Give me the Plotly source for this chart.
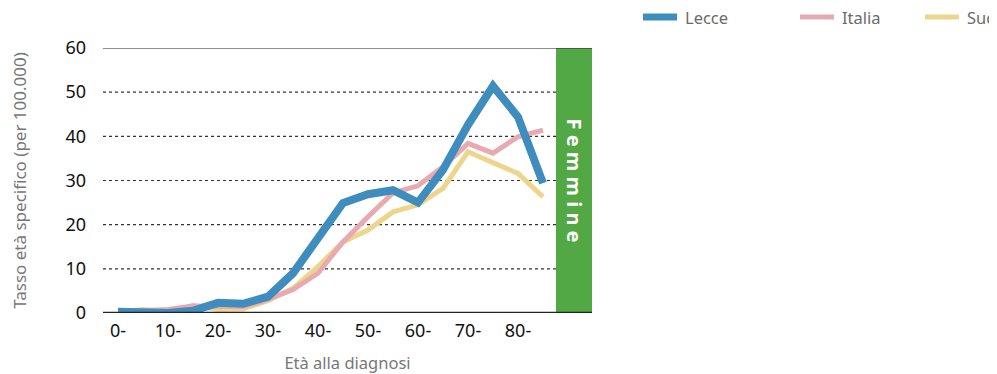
import plotly.graph_objects as go

age_groups = ["0-", "5-", "10-", "15-", "20-", "25-", "30-", "35-", "40-",
              "45-", "50-", "55-", "60-", "65-", "70-", "75-", "80-", "85-"]
lecce = [0.3, 0.2, 0.0, 0.5, 2.3, 2.1, 3.7, 9.0, 17.0, 24.9, 26.9, 27.8,
         25.0, 32.4, 42.6, 51.4, 44.4, 29.4]
italia = [0.3, 0.5, 0.8, 1.6, 1.5, 1.4, 3.1, 5.3, 9.0, 16.1, 21.8, 27.2,
          28.8, 33.1, 38.4, 36.2, 39.9, 41.4]
sud = [0.3, 0.8, 0.3, 1.7, 0.8, 0.9, 2.8, 5.6, 10.5, 16.1, 18.8, 22.9,
       24.5, 28.2, 36.5, 33.9, 31.6, 26.3]
y_ticks = [0, 10, 20, 30, 40, 50, 60]
series_names = ["Lecce", "Italia", "Sud"]
colors = {"Lecce": "#3f8cbe", "Italia": "#e9a9b0", "Sud": "#edd68b"}
widths = {"Lecce": 8, "Italia": 5, "Sud": 5}
values = {"Lecce": lecce, "Italia": italia, "Sud": sud}

x_idx = list(range(len(age_groups)))
tick_idx = x_idx[::2]
tick_text = age_groups[::2]

FONT = "Noto Sans"
OFF = 8
PL, PR, PT, PB = 103 - OFF, 592 - OFF, 48 - OFF, 313 - OFF
W, H = 997 - OFF, 374 - OFF
PW = PR - PL
PH = PB - PT

fig = go.Figure()
for name in ["Sud", "Italia", "Lecce"]:
    fig.add_trace(go.Scatter(
        x=x_idx, y=values[name], mode="lines", name=name,
        line=dict(color=colors[name], width=widths[name]),
        showlegend=False, hoverinfo="skip"))

plot_end = (556 - 103) / float(PW)

shapes = []
shapes.append(dict(type="rect", xref="paper", yref="paper", x0=plot_end, x1=1,
                   y0=0, y1=1, fillcolor="#52a845", line=dict(width=0), layer="below"))
for v in y_ticks:
    if v == 0:
        shapes.append(dict(type="line", xref="paper", yref="y", x0=0, x1=1, y0=v, y1=v,
                           line=dict(color="#222", width=2.5), layer="above"))
    elif v == y_ticks[-1]:
        shapes.append(dict(type="line", xref="paper", yref="y", x0=0, x1=1, y0=v, y1=v,
                           line=dict(color="#222", width=1.2), layer="below"))
    else:
        shapes.append(dict(type="line", xref="paper", yref="y", x0=0, x1=plot_end, y0=v, y1=v,
                           line=dict(color="#333", width=1.2, dash="dot"), layer="below"))

annotations = []
annotations.append(dict(text="<b>F e m m i n e</b>", xref="paper", yref="paper",
                        x=(plot_end + 1) / 2, y=0.5, xanchor="center", yanchor="middle",
                        textangle=90, showarrow=False,
                        font=dict(family=FONT, size=20, color="#ffffff")))

leg_x = {"Lecce": 643, "Italia": 800, "Sud": 925}
for name in series_names:
    px0 = leg_x[name]
    x0 = (px0 - 103) / float(PW)
    x1 = (px0 + 34 - 103) / float(PW)
    yl = (313 - 17) / float(PH)
    shapes.append(dict(type="line", xref="paper", yref="paper", x0=x0, x1=x1, y0=yl, y1=yl,
                       line=dict(color=colors[name], width=7 if name == "Lecce" else 5)))
    annotations.append(dict(text=name, xref="paper", yref="paper",
                            x=(px0 + 40 - 103) / float(PW), y=yl, xanchor="left", yanchor="middle",
                            showarrow=False, font=dict(family=FONT, size=16.5, color="#6b6b6b")))

fig.update_layout(
    width=W, height=H,
    margin=dict(l=PL, r=W - PR, t=PT, b=H - PB, autoexpand=False),
    paper_bgcolor="white", plot_bgcolor="white",
    font=dict(family=FONT, size=16, color="#111"),
    shapes=shapes, annotations=annotations,
    showlegend=False,
)
fig.update_xaxes(range=[-0.6, -0.6 + PW / 25.0], tickmode="array", tickvals=tick_idx,
                 ticktext=tick_text, showgrid=False, zeroline=False, showline=False,
                 automargin=False,
                 ticks="", ticklabelstandoff=5, tickfont=dict(family=FONT, size=18, color="#111"),
                 title=dict(text="Età alla diagnosi", standoff=21,
                            font=dict(family=FONT, size=16.5, color="#777")))
fig.update_yaxes(range=[0, 60], tickmode="array", tickvals=y_ticks, showgrid=False,
                 zeroline=False, showline=False, ticks="", ticklabelstandoff=16,
                 automargin=False,
                 tickfont=dict(family=FONT, size=18, color="#111"),
                 title=dict(text="Tasso età specifico (per 100.000)", standoff=38,
                            font=dict(family=FONT, size=17, color="#777")))

fig.write_html("out.html")
